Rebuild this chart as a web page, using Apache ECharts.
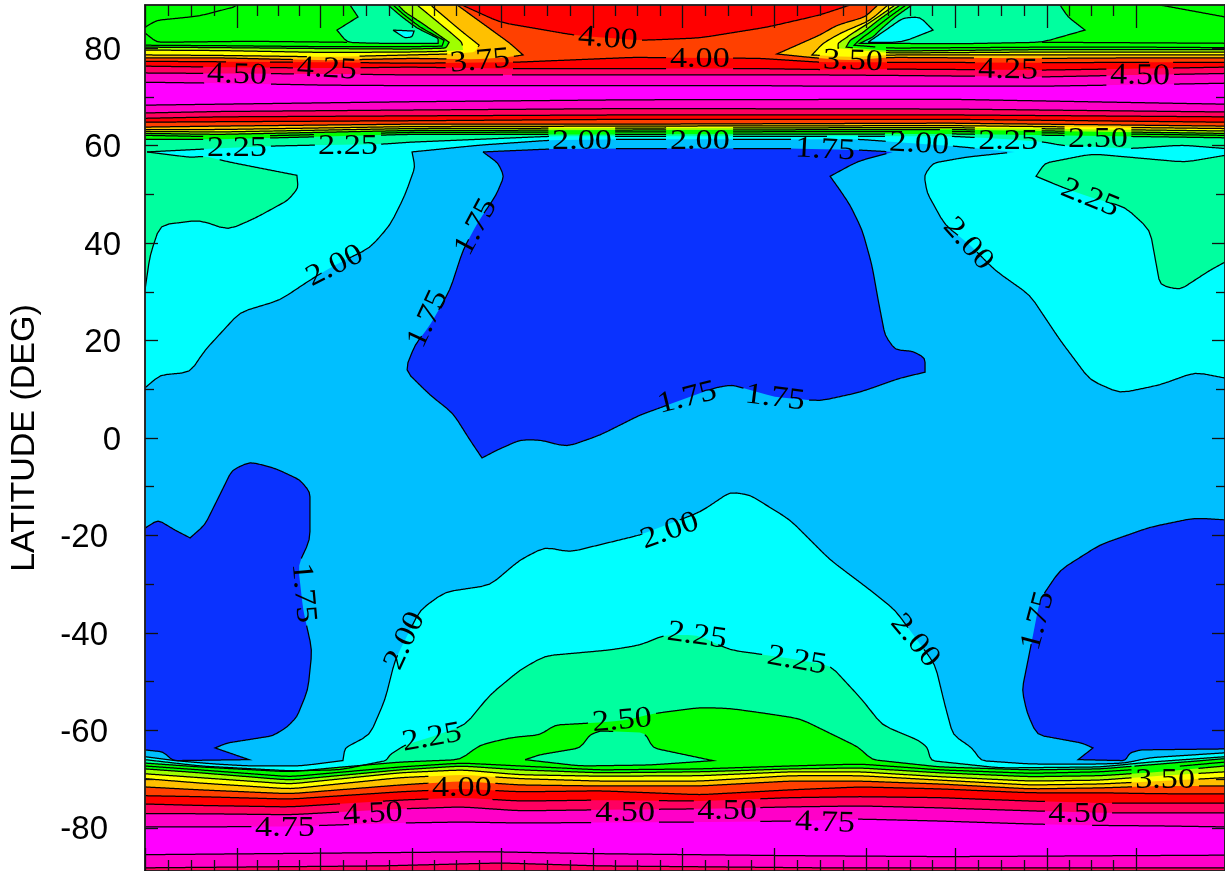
<!DOCTYPE html>
<html><head><meta charset="utf-8">
<style>html,body{margin:0;padding:0;background:#fff}#c{width:1225px;height:871px}</style>
<script src="https://cdn.jsdelivr.net/npm/echarts@6/dist/echarts.min.js"></script>
</head><body><div id="c"></div>
<script>
// Axis content
const latMax = 88.85, dayMax = 364;
const latLabels = [-80,-60,-40,-20,0,20,40,60,80];
const latMinor = [-70,-50,-30,-10,10,30,50,70];
const monthStarts = [0,31,59,90,120,151,181,212,243,273,304,334];
const quarterTicks = monthStarts.slice(0,-1).flatMap((d,i)=>[1,2,3].map(k=>d+(monthStarts[i+1]-d)*k/4));
// Band colours, by contour level
const colBlue='#0a32ff', colSky='#00bfff', colCyan='#00ffff', colSpring='#00ff9f', colGreen='#00ff00',
      colLime='#9fff00', colYellow='#ffff00', colOrange='#ffc000', colOrangeRed='#ff4000', colRed='#ff0000',
      colCrimson='#ff0060', colPink='#ff00c8', colMagenta='#ff00ff';

// South polar rows: latitude of each contour at these days
const sDays=[0,18.5,48.9,85.9,106.8,126.4,153.4,187,217.4,241,267.9,298.3,321.9,342.1,364];
const s275=[-67.3,-68.1,-69.5,-67.5,-66.7,-67.3,-68.1,-67.9,-67.3,-66.9,-68.1,-68.8,-68.5,-67.7,-66.5];
const s300=[-67.9,-68.7,-70.2,-68.1,-67.3,-68.1,-68.7,-68.5,-67.9,-67.7,-68.7,-69.5,-69.3,-68.5,-67.3];
const s325=[-68.9,-69.7,-71.0,-68.7,-68.1,-69.1,-69.4,-69.3,-68.5,-68.5,-69.5,-70.4,-70.2,-69.3,-68.5];
const s350=[-69.9,-70.8,-72.0,-69.7,-69.1,-69.9,-70.4,-70.4,-69.3,-69.3,-70.2,-71.2,-71.0,-70.4,-69.7];
const s375=[-71.6,-72.2,-73.0,-71.2,-70.4,-71.2,-71.4,-71.4,-70.4,-70.4,-71.0,-72.0,-71.8,-71.4,-71.4];
const s400=[-73.4,-73.6,-74.1,-72.6,-72.0,-72.6,-72.4,-73.2,-72.2,-71.6,-72.0,-72.8,-72.8,-73.0,-73.0];
const s425=[-75.1,-75.4,-75.7,-74.3,-73.8,-74.5,-74.3,-74.5,-73.8,-73.6,-73.8,-74.5,-74.9,-74.9,-74.9];
const s450=[-77.1,-77.1,-77.3,-76.1,-75.7,-76.5,-76.3,-76.1,-75.7,-75.5,-75.9,-76.5,-76.9,-76.9,-76.9];
const s475=[-79.8,-79.8,-79.7,-79.0,-78.8,-79.0,-78.9,-78.8,-78.6,-78.2,-78.6,-79.2,-79.5,-79.6,-79.8];
const pole475Days=[0,116,153,217,270,364], pole475=[-85.5,-84.9,-85.3,-85.7,-85.9,-85.6];
const pole450Days=[0,80,120,153,228,364], pole450=[-88.2,-87.8,-87.2,-87.8,-88.2,-88.2];

// North band, poleward of the 60-70 degree jet: south edge rows
const nlDays=[0,25.3,89.3,163.5,271.3,364];
const nl475=[68.3,68.5,69,69.4,69.5,68.5];
const nl450=[66.7,67,67.3,67.6,67.5,66.9];
const nl425=[65.6,65.9,66.1,66.3,66.3,65.9];
const nl400=[64.8,64.9,65.1,65.4,65.4,64.8];
const nl375=[63.8,64,64.4,64.4,64.6,64];
const nl350=[63.3,63.3,63.9,64,64.1,63.5];
const nl325=[62.9,62.8,63.5,63.6,63.7,63];
const nl300=[62.5,62.3,63.1,63.2,63.3,62.5];
const nl275=[62.1,61.8,62.7,62.8,62.9,62.1];
const nl250=[61.3,61.3,62.3,62.3,62.4,61.6];
// North band: north edge rows
const nuDays=[0,25.3,61.3,89.3,124.7,164.5,207.3,227.5,251.1,303.3,335.4,364];
const nu400=[77.3,77.2,77.1,76.9,77.1,78.1,77.9,77.1,77.1,77,77.1,77.1];
const nu425=[76.3,76.1,75.9,76.1,75.8,75.8,75.8,75.6,75.7,75.5,75.8,76.1];
const nu450=[74.9,74.8,74.7,74.5,74.5,74.5,74.5,74.5,74.4,74.1,74.5,74.8];
const nu475=[73,72.8,72.4,72.3,72.3,72.3,72.3,72.2,72.2,72.2,72.5,72.8];

// North high-latitude contours, running into the top edge: [day, latitude]
const u250W=[[69.1,88.85],[71.8,86.4],[64.7,83.7],[68.1,81.2],[76.5,81],[98.8,81],[98.8,82],[91.7,84.1],[86.6,86.4],[81.9,88.85]];
const u250E=[[258.5,88.85],[252.8,86.4],[247.7,83.7],[245.4,82.3],[241,81],[274.7,80.9],[302.3,81.2],[316.8,83.7],[311.1,86.4],[308.4,88.85]];
const u275W=[[0,80.6],[25.3,80.5],[61.3,80.3],[89.3,80.3],[100.1,80.4],[100.8,81.6],[92.7,84.3],[87,87],[83.6,88.85]];
const u275E=[[256.5,88.85],[250.4,86.2],[244.4,83.3],[241,81.8],[239,80.6],[251.1,80],[303.3,80.2],[335.4,80.2],[364,80.1]];
const u300W=[[0,80.2],[25.3,80.1],[61.3,79.9],[89.3,79.8],[101.4,80],[102.5,81.2],[93.4,85.1],[87.6,87.4],[85.3,88.85]];
const u300E=[[254.5,88.85],[247.7,86],[241.7,83.1],[237.6,81.6],[236.3,80.2],[251.1,79.4],[303.3,79.7],[335.4,79.7],[364,79.7]];
const u325W=[[0,79.6],[25.3,79.5],[61.3,79.1],[89.3,79.2],[99.4,79.3],[107.2,79.6],[106.8,81.2],[102.8,83.3],[91.7,88.85]];
const u325E=[[252.8,88.85],[245.4,85.7],[238.6,83.1],[233.6,81],[233.6,80],[251.1,79],[303.3,79.2],[335.4,79.2],[364,79.2]];
const u350W=[[0,78.6],[25.3,78.5],[61.3,78.2],[89.3,78.6],[102.8,78.8],[111.2,79.2],[112.6,80.6],[106.2,83.7],[97.1,88.4],[96.4,88.85]];
const u350E=[[250.4,88.85],[244.4,85.7],[234.5,83.1],[228.5,81],[224.8,78.6],[237.6,78.2],[251.1,78.6],[303.3,78.6],[335.4,78.6],[364,78.6]];
const u375W=[[0,78],[25.3,78],[61.3,77.5],[89.3,77.9],[112.9,77.7],[123,78.2],[127.4,78.6],[123,81],[105.2,88.85]];
const u375E=[[247,88.85],[242.7,86.4],[233.2,84.7],[227.5,82.7],[213,78.8],[225.8,78],[237.6,77.5],[251.1,78.1],[303.3,77.9],[335.4,78],[364,78]];
const cap400=[[106.8,88.85],[119.7,85.3],[144.3,82.7],[156,82.1],[167.5,81.6],[187.1,82.1],[209.6,84.3],[227.5,86.8],[237.6,88.85]];
const topLeftLine=[[0,84.3],[4,85.7],[18.5,86.6],[29.7,88.4],[31,88.85]];
const topRightLine=[[342.1,88.85],[364,86.4]];
const greenLineW=[[0,83.1],[4,81.2],[35.4,81.4],[68.1,81.2]];
const greenLineE=[[302.3,81.2],[364,81]];
const holeW=[[83.6,83.7],[90.7,83.5],[90,82.3],[87.6,82.1],[83.6,83.7]];
const holeE=[[243.7,81.2],[248.7,83.3],[255.5,86.2],[261.2,86.4],[265.6,83.7],[255.1,81.2],[243.7,81.2]];

// Mid-latitude contours: [day, latitude]
const north200=[[0,10.3],[5.1,12.9],[15.2,13.5],[20.2,18],[32,25.8],[45.5,28.3],[55.6,32.4],[64,35.5],[75.8,39],[82.6,43.7],[87.6,49.8],[91,55.6],[90,58.7],[112.9,60.1],[136.5,61.1],[160.1,61.3],[240.3,61.3],[272.3,59.9],[293.2,58.7],[276.4,57.6],[265.6,56.4],[262.6,53.9],[263.6,50.3],[269.6,43.7],[277.4,40],[286.5,34.4],[298.3,29.3],[308.4,20.1],[318.5,11.9],[328.6,9.2],[342.1,10.9],[353.9,13.5],[364,12.3]];
const north225=[[0.7,58.7],[20.2,59.3],[42.1,59.9],[57.6,60.1],[80.2,60.3],[89.3,60.7],[112.9,61.3],[136.5,61.9],[163.5,61.9],[240.3,61.9],[272.3,61.9],[290.9,61.3],[302.3,60.8],[309.4,60],[332.7,59.4],[349.5,60.1],[364,59.4]];
const westBlob225=[[0.7,58.7],[15.2,57.6],[20.2,57.8],[28.6,56.6],[51.2,53.9],[51.6,51.3],[48.2,48.8],[37.1,45.1],[28,42.7],[18.5,44.7],[5.1,43.7],[1.7,37.5],[0,30.4]];
const eastBlob225=[[364,58],[350.5,56.6],[319.2,58.3],[303.3,56.4],[300.3,53.7],[309.4,51.4],[318.5,49.4],[330.3,47.4],[338.7,42.7],[342.1,31.4],[348.8,30.4],[358.9,34.4],[364,36.1]];
const south200=[[0,-65.4],[10.1,-66.2],[23.6,-66.9],[35.4,-67.3],[52.2,-67.3],[66.7,-66.2],[67.4,-63.6],[75.8,-60.9],[80.9,-53.7],[84.3,-45.5],[92.7,-35.3],[101.1,-31.6],[116.3,-30.2],[126.4,-25],[134.8,-22.4],[143.2,-23.4],[160.1,-20.9],[166.8,-19.9],[187.1,-15.2],[197.2,-11.1],[203.9,-11.7],[217.4,-16.8],[230.9,-25],[244.4,-31.2],[252.8,-35.3],[266.3,-46.5],[269.6,-54.8],[272.3,-60.9],[278.7,-63.6],[281.8,-66.2],[298.3,-66.9],[321.9,-66.9],[330.3,-66.7],[338.7,-65.6],[364,-64.6]];
const south225=[[0,-66],[18.5,-67.3],[48.9,-68.3],[65.7,-68.1],[81.2,-66.2],[82.6,-65],[87.6,-63],[96.7,-61.3],[107.9,-58.9],[116.3,-52.7],[126.4,-47.6],[134.8,-44.7],[156.7,-43.5],[166.8,-42.5],[175.3,-40.4],[186,-40.4],[197.2,-43.5],[209,-44.5],[219.7,-45.5],[230.9,-46.6],[241.7,-53.7],[248.4,-58.9],[260.5,-62],[263.6,-63.4],[264.9,-66.2],[288.2,-67.7],[321.9,-67.5],[338.7,-66.5],[364,-65.4]];
const south250=[[0,-66.7],[18.5,-67.5],[48.9,-68.5],[66.7,-67.5],[85.9,-66.5],[106.2,-66],[112.9,-63],[123,-61.5],[133.1,-60.9],[138.2,-58.9],[150,-58.5],[161.1,-58],[171.9,-56.5],[187.1,-55.3],[197.2,-55.5],[209,-56.5],[220.8,-57.6],[233.6,-61.4],[240.3,-63.4],[245,-66],[267.9,-67.5],[298.3,-68.1],[321.9,-67.9],[342.1,-66.9],[364,-65.8]];
const lens250=[[128.1,-66],[133.1,-65],[146.6,-63.6],[150,-60.9],[153.4,-60.1],[168.5,-60.5],[171.2,-63.6],[191.4,-66.2],[170.2,-67.1],[146.6,-67.3],[128.1,-66]];
const blueSW=[[0,-18.5],[4.4,-16.8],[10.1,-18.9],[15.2,-20.5],[20.2,-17.8],[26,-10.7],[29.3,-6.6],[35.4,-4.9],[43.8,-6.2],[52.2,-8.6],[55.6,-11.1],[55.6,-20.9],[51.6,-26.1],[53.3,-35.3],[56.3,-43.5],[54.9,-51.7],[51.2,-57.2],[47.9,-59.3],[43.1,-61.1],[27.6,-62.6],[23.6,-63.6],[35.1,-66],[9.4,-66.2],[6.1,-64.4],[0,-64]];
const blueSE=[[364,-16.8],[353.9,-16.4],[338.7,-18.3],[321.9,-21.9],[308.4,-27.1],[301.6,-33.2],[298.3,-43.5],[295.6,-51.7],[297.3,-56.4],[300.6,-60.9],[315.8,-62.6],[319.5,-63.6],[314.5,-66],[330.3,-66.2],[332,-64.6],[335.4,-64],[364,-63.8]];
const blueN=[[113.9,58.7],[119,56.4],[121,53.7],[118.3,49.8],[112.2,44.3],[107.2,38.6],[102.8,30.4],[96.1,23.2],[91,19.1],[87.6,13.9],[96.1,8.8],[103.8,5.1],[109.5,-0.4],[113.6,-4.1],[118.6,-2.5],[126.4,-0.4],[133.1,-0.4],[142.2,-1.8],[153.4,0.6],[166.8,4.7],[173.6,6.2],[192.1,10.3],[197.8,10.9],[212.3,8.4],[227.5,7.6],[241,9.4],[254.5,12.3],[262.9,13.5],[262.9,16.4],[258.8,17.8],[252.8,18.1],[249.4,21.1],[247.1,28.3],[245,35.5],[241.7,42.7],[237.6,47.8],[234.2,50.9],[230.9,53.7],[240.3,56.8],[252.1,58.7],[240.3,59.1],[217.4,59.4],[166.8,59.4],[136.5,59.3],[113.9,58.7]];

// Contour labels: [text, day, latitude, rotation in degrees]
const contourLabels=[
['4.50',31,74.7,-2],['4.25',61.3,75.9,-3],['3.75',112.9,77.5,5],['4.00',156,82.1,-4],['4.00',187,78,0],['3.50',238.6,77.5,-2],['4.25',290.9,75.7,-1],['4.50',335.4,74.5,-1],
['2.25',31,59.7,0],['2.25',68.4,60.1,0],['2.00',147.3,61.1,0],['2.00',187,61.1,0],['1.75',229.2,59.3,-3],['2.00',260.9,60.5,-3],['2.25',290.9,61.1,0],['2.50',321.2,61.5,0],
['2.25',318.5,49.4,-22],['2.00',64,35.5,27],['1.75',111.6,43.5,62],['1.75',95.4,24.6,65],['2.00',277.4,40,-48],['1.75',182.7,8.4,14],['1.75',212.3,8.4,-7],
['1.75',53.3,-31.6,-85],['1.75',301,-37.3,75],['2.00',176.9,-18.9,20],['2.00',87.6,-41.4,65],['2.00',259.5,-41.4,-50],['2.25',186,-40.4,-8],['2.25',219.7,-45.5,-10],['2.25',96.7,-61.3,10],['2.50',160.8,-57.8,5],
['4.00',106.8,-71.6,0],['3.50',343.8,-69.9,0],['4.75',47.2,-79.9,0],['4.50',76.8,-77,3],['4.50',161.8,-76.8,0],['4.50',196.2,-76.4,0],['4.75',229.2,-78.8,-2],['4.50',314.5,-76.9,0]
];

const T=latMax,B=-latMax;
const row=(days,vals)=>days.map((d,i)=>[d,vals[i]]);
const rev=a=>a.slice().reverse();
const northBand=(w,e,lower)=>[...w,...e,...rev(row(nlDays,lower))];
const rowBand=(upper,lower)=>[...row(nuDays,upper),...rev(row(nlDays,lower))];
const southCap=(vals)=>[...row(sDays,vals),[dayMax,B],[0,B]];
const southBand=(vals,pd,pv)=>[...row(sDays,vals),...rev(row(pd,pv))];

const fills=[
 [colSky,[[0,T],[dayMax,T],[dayMax,B],[0,B]]],
 [colBlue,blueSW],[colBlue,blueSE],[colBlue,blueN],
 [colCyan,[...north200,[dayMax,T],[0,T]]],[colCyan,[...south200,[dayMax,B],[0,B]]],
 [colSpring,[[0,58.7],...north225,[dayMax,T],[0,T]]],[colSpring,[[0,58.7],...westBlob225]],[colSpring,eastBlob225],[colSpring,[...south225,[dayMax,B],[0,B]]],
 [colCyan,holeW],[colCyan,holeE],
 [colGreen,northBand([[0,T],...u250W],[...u250E,[dayMax,T]],nl250)],[colGreen,[...south250,[dayMax,B],[0,B]]],
 [colSpring,lens250],
 [colLime,northBand(u300W,u300E,nl300)],[colLime,southCap(s300)],
 [colYellow,northBand(u325W,u325E,nl325)],[colYellow,southCap(s325)],
 [colOrange,northBand(u350W,u350E,nl350)],[colOrange,southCap(s350)],
 [colOrangeRed,northBand(u375W,u375E,nl375)],[colOrangeRed,southCap(s375)],
 [colRed,rowBand(nu400,nl400)],[colRed,cap400],[colRed,southCap(s400)],
 [colCrimson,rowBand(nu425,nl425)],[colCrimson,southCap(s425)],
 [colPink,rowBand(nu450,nl450)],[colPink,southBand(s450,pole450Days,pole450)],
 [colMagenta,rowBand(nu475,nl475)],[colMagenta,southBand(s475,pole475Days,pole475)]
];

const lines=[
 north200,north225,westBlob225,eastBlob225,south200,south225,south250,lens250,blueSW,blueSE,blueN,holeW,holeE,
 u250W,u250E,u275W,u275E,u300W,u300E,u325W,u325E,u350W,u350E,u375W,u375E,cap400,topLeftLine,topRightLine,greenLineW,greenLineE,
 row(nlDays,nl250),row(nlDays,nl275),row(nlDays,nl300),row(nlDays,nl325),row(nlDays,nl350),row(nlDays,nl375),row(nlDays,nl400),row(nlDays,nl425),row(nlDays,nl450),row(nlDays,nl475),
 row(nuDays,nu400),row(nuDays,nu425),row(nuDays,nu450),row(nuDays,nu475),
 row(sDays,s275),row(sDays,s300),row(sDays,s325),row(sDays,s350),row(sDays,s375),row(sDays,s400),row(sDays,s425),row(sDays,s450),row(sDays,s475),
 row(pole475Days,pole475),row(pole450Days,pole450)
];

// Round the gentle bends of a contour; sharp tips stay sharp
function soften(p){
  const out=[p[0]];
  for(let i=1;i<p.length-1;i++){
    const a=p[i-1],b=p[i],c=p[i+1];
    const ux=b[0]-a[0],uy=b[1]-a[1],vx=c[0]-b[0],vy=c[1]-b[1];
    const lu=Math.hypot(ux,uy),lv=Math.hypot(vx,vy);
    if(lu<1||lv<1){out.push(b);continue;}
    const ang=Math.acos(Math.max(-1,Math.min(1,(ux*vx+uy*vy)/(lu*lv))));
    if(ang>1.2){out.push(b);continue;}
    const cut=Math.min(lu*.3,lv*.3,9);
    const p1=[b[0]-ux/lu*cut,b[1]-uy/lu*cut],p2=[b[0]+vx/lv*cut,b[1]+vy/lv*cut];
    out.push(p1,[b[0]*.5+(p1[0]+p2[0])*.25,b[1]*.5+(p1[1]+p2[1])*.25],p2);
  }
  out.push(p[p.length-1]);
  return out;
}

// Break a contour where a label sits on it
const HW=33,HH=12.5;
function clipRuns(pts,boxes){
  const runs=[];let cur=[];
  const inside=(x,y)=>boxes.some(b=>{const dx=x-b.x,dy=y-b.y;const u=dx*b.c-dy*b.s,v=dx*b.s+dy*b.c;return Math.abs(u)<HW&&Math.abs(v)<HH;});
  for(let i=0;i<pts.length-1;i++){
    const [x0,y0]=pts[i],[x1,y1]=pts[i+1];
    const n=Math.max(1,Math.ceil(Math.hypot(x1-x0,y1-y0)));
    for(let k=(i?1:0);k<=n;k++){
      const x=x0+(x1-x0)*k/n,y=y0+(y1-y0)*k/n;
      if(inside(x,y)){if(cur.length>1)runs.push(cur);cur=[];}
      else cur.push([x,y]);
    }
  }
  if(cur.length>1)runs.push(cur);
  return runs;
}

const fontAxis='"Liberation Sans",Arial,sans-serif';
const axisLine={show:true,onZero:false,lineStyle:{color:'#222',width:1.5}};
const tickStyle={color:'#111',width:1.3};
const xAx=(pos,vals,len)=>({type:'value',min:0,max:dayMax,position:pos,z:10,splitLine:{show:false},axisLabel:{show:false},axisLine,
  axisTick:{show:true,inside:true,length:len,customValues:vals,lineStyle:tickStyle}});
const yAx=(pos,vals,len,extra)=>Object.assign({type:'value',min:-latMax,max:latMax,position:pos,z:10,splitLine:{show:false},axisLabel:{show:false},axisLine,
  axisTick:{show:true,inside:true,length:len,customValues:vals,lineStyle:tickStyle}},extra||{});
const labelRich={fontFamily:fontAxis,fontSize:33,color:'#000'};

const chart=echarts.init(document.getElementById('c'),null,{renderer:'canvas'});
chart.setOption({
 animation:false,backgroundColor:'#fff',
 grid:{left:145,top:5,width:1080,height:866,containLabel:false,outerBoundsMode:'none'},
 xAxis:[xAx('bottom',monthStarts,23),xAx('bottom',quarterTicks,11),xAx('top',monthStarts,23),xAx('top',quarterTicks,11)],
 yAxis:[
  yAx('left',latLabels,13,{name:'LATITUDE (DEG)',nameLocation:'middle',nameGap:103,nameRotate:90,nameTextStyle:{fontFamily:fontAxis,fontSize:34,color:'#000'},
      axisLabel:{show:true,customValues:latLabels,margin:24,fontFamily:fontAxis,fontSize:33,color:'#000',
        formatter:v=>(v<0?'{n|'+v+'}':'{p|'+v+'}'),
        rich:{p:Object.assign({padding:[5,0,0,0]},labelRich),n:Object.assign({padding:[5,13,0,0]},labelRich)}}}),
  yAx('left',latMinor,9),yAx('right',latLabels,13),yAx('right',latMinor,9)],
 series:[
  {type:'custom',name:'bands',coordinateSystem:'cartesian2d',z:2,clip:true,silent:true,data:fills.map((f,i)=>[i]),
   renderItem:(p,api)=>{const f=fills[p.dataIndex];return {type:'polygon',shape:{points:soften(f[1].map(q=>api.coord(q)))},style:{fill:f[0],stroke:null}};}},
  {type:'custom',name:'contours',coordinateSystem:'cartesian2d',z:3,clip:true,silent:true,data:lines.map((l,i)=>[i]),
   renderItem:(p,api)=>{
     const boxes=contourLabels.map(l=>{const c=api.coord([l[1],l[2]]),r=-l[3]*Math.PI/180;return {x:c[0],y:c[1],c:Math.cos(r),s:Math.sin(r)};});
     const runs=clipRuns(soften(lines[p.dataIndex].map(q=>api.coord(q))),boxes);
     return {type:'group',children:runs.map(r=>({type:'polyline',shape:{points:r},style:{stroke:'#000',lineWidth:1.25,fill:null}}))};
   }},
  {type:'custom',name:'labels',coordinateSystem:'cartesian2d',z:4,clip:false,silent:true,data:contourLabels.map((l,i)=>[i]),
   renderItem:(p,api)=>{const l=contourLabels[p.dataIndex],c=api.coord([l[1],l[2]]);
     return {type:'text',x:c[0],y:c[1]+1,rotation:l[3]*Math.PI/180,scaleX:1.14,style:{text:l[0],font:'30px "Liberation Serif","Times New Roman",serif',fill:'#000',align:'center',verticalAlign:'middle'}};}}
 ]
});
</script></body></html>
